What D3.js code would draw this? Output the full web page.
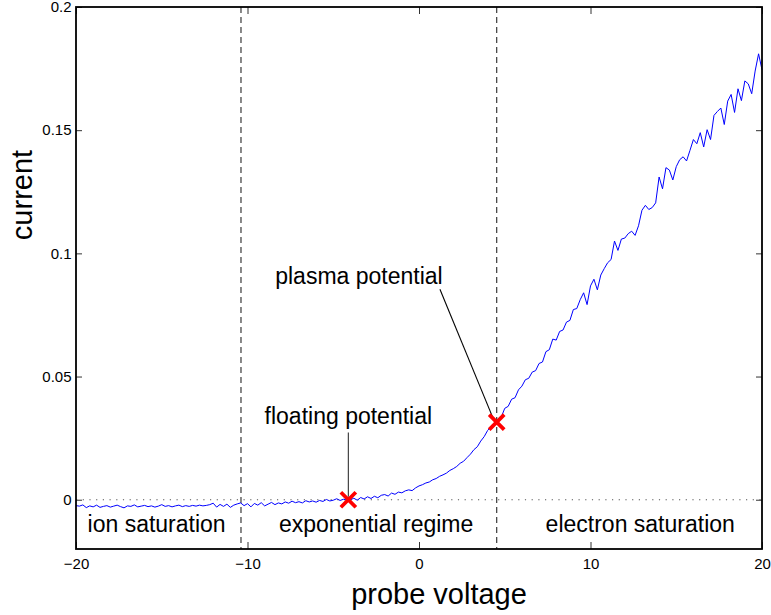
<!DOCTYPE html>
<html>
<head>
<meta charset="utf-8">
<script src="https://cdn.jsdelivr.net/npm/d3@7"></script>
<style>
  body { margin: 0; background: #fff; }
  text { font-family: "Liberation Sans", Arial, Helvetica, sans-serif; fill: #000; }
</style>
</head>
<body>
<div id="chart"></div>
<script>
// probe sweep, -20 V to 20 V in 0.2 V steps
var voltage = d3.range(201).map(function(i) { return +(-20 + 0.2 * i).toFixed(1); });

var current = [
  -0.0024, -0.0026, -0.0021, -0.0032, -0.0025, -0.0029, -0.0022, -0.0031, -0.0027, -0.0024,
  -0.0030, -0.0026, -0.0022, -0.0028, -0.0033, -0.0025, -0.0027, -0.0021, -0.0029, -0.0026,
  -0.0023, -0.0028, -0.0025, -0.0030, -0.0026, -0.0020, -0.0027, -0.0024, -0.0029, -0.0025,
  -0.0022, -0.0028, -0.0024, -0.0027, -0.0023, -0.0026, -0.0022, -0.0025, -0.0023, -0.0020,
  -0.0014, -0.0030, -0.0019, -0.0027, -0.0018, -0.0031, -0.0022, -0.0017, -0.0013, -0.0024,
  -0.0016, -0.0029, -0.0015, -0.0022, -0.0012, -0.0025, -0.0018, -0.0011, -0.0020, -0.0013,
  -0.0017, -0.0009, -0.0014, -0.0006, -0.0012, -0.0008, -0.0013, -0.0004, -0.0009, -0.0005,
  -0.0010, -0.0003, -0.0007, 0.0001, -0.0005, -0.0002, 0.0004, -0.0003, 0.0002, -0.0001,
  0.0000, 0.0006, -0.0002, 0.0009, 0.0003, 0.0012, 0.0005, 0.0014, 0.0008, 0.0018,
  0.0021, 0.0015, 0.0027, 0.0022, 0.0031, 0.0028, 0.0036, 0.0040, 0.0037, 0.0048,
  0.0056, 0.0061, 0.0068, 0.0072, 0.0081, 0.0086, 0.0095, 0.0101, 0.0108, 0.0119,
  0.0126, 0.0135, 0.0148, 0.0156, 0.0171, 0.0185, 0.0203, 0.0215, 0.0238, 0.0256,
  0.0281, 0.0297, 0.0312, 0.0322, 0.0336, 0.0371, 0.0379, 0.0408, 0.0414, 0.0446,
  0.0461, 0.0487, 0.0493, 0.0518, 0.0524, 0.0553, 0.0559, 0.0601, 0.0609, 0.0652,
  0.0648, 0.0683, 0.0689, 0.0721, 0.0728, 0.0772, 0.0776, 0.0812, 0.0840, 0.0792,
  0.0868, 0.0895, 0.0852, 0.0912, 0.0938, 0.0962, 0.0975, 0.1050, 0.1012, 0.1058,
  0.1062, 0.1080, 0.1090, 0.1073, 0.1112, 0.1175, 0.1195, 0.1178, 0.1186, 0.1205,
  0.1310, 0.1262, 0.1348, 0.1338, 0.1298, 0.1352, 0.1380, 0.1392, 0.1375, 0.1418,
  0.1462, 0.1445, 0.1490, 0.1432, 0.1502, 0.1462, 0.1560, 0.1576, 0.1590, 0.1523,
  0.1618, 0.1645, 0.1572, 0.1668, 0.1620, 0.1700, 0.1688, 0.1648, 0.1740, 0.1810,
  0.1745
];

var xTicks = [-20, -10, 0, 10, 20];
var yTicks = [0, 0.05, 0.1, 0.15, 0.2];

// region boundaries (dashed lines)
var boundaries = [-10.38, 4.53];

// marked points
var markNames = ["floating potential", "plasma potential"];
var markV = [-4.12, 4.53];
var markI = [0.0, 0.0315];

// region labels (centre voltage)
var regionNames = ["ion saturation", "exponential regime", "electron saturation"];
var regionV = [-15.3, -2.5, 12.9];

// set the dimensions and margins of the graph
var margin = {top: 7, right: 9, bottom: 66, left: 76},
    width = 771 - margin.left - margin.right,
    height = 615 - margin.top - margin.bottom;

var x = d3.scaleLinear().domain([-20, 20]).range([0, width]);
var y = d3.scaleLinear().domain([-0.02, 0.2]).range([height, 0]);

var svg = d3.select("#chart").append("svg")
    .attr("width", 771)
    .attr("height", 615)
  .append("g")
    .attr("transform", "translate(" + margin.left + "," + margin.top + ")");

// zero line (dotted)
svg.append("line")
    .attr("x1", 0).attr("x2", width)
    .attr("y1", y(0)).attr("y2", y(0))
    .style("stroke", "#555")
    .style("stroke-width", 1.2)
    .style("stroke-dasharray", "1.2,5.5");

// region boundaries
svg.selectAll(".bound")
    .data(boundaries)
    .enter()
    .append("line")
    .attr("class", "bound")
    .attr("x1", function(d) { return x(d); })
    .attr("x2", function(d) { return x(d); })
    .attr("y1", 0).attr("y2", height)
    .style("stroke", "#3a3a3a")
    .style("stroke-width", 1.2)
    .style("stroke-dasharray", "6,4");

// the I-V trace
var line = d3.line()
    .x(function(d, i) { return x(voltage[i]); })
    .y(function(d) { return y(d); });

svg.append("path")
    .datum(current)
    .attr("d", line)
    .style("fill", "none")
    .style("stroke", "#0000ff")
    .style("stroke-width", 1);

// axes: ticks inside, box all round
var fmtX = d3.format("d");
var fmtY = d3.format("~g");

svg.append("g")
    .attr("class", "axis")
    .attr("transform", "translate(0," + height + ")")
    .call(d3.axisBottom(x).tickValues(xTicks).tickSizeInner(-7).tickSizeOuter(0).tickPadding(9).tickFormat(fmtX));
svg.append("g")
    .attr("class", "axis")
    .call(d3.axisTop(x).tickValues(xTicks).tickSizeInner(-7).tickSizeOuter(0).tickFormat(""));
svg.append("g")
    .attr("class", "axis")
    .call(d3.axisLeft(y).tickValues(yTicks).tickSizeInner(-6).tickSizeOuter(0).tickPadding(4.5).tickFormat(fmtY));
svg.append("g")
    .attr("class", "axis")
    .attr("transform", "translate(" + width + ",0)")
    .call(d3.axisRight(y).tickValues(yTicks).tickSizeInner(-6).tickSizeOuter(0).tickFormat(""));

svg.selectAll(".axis .domain").remove();
svg.selectAll(".axis line").style("stroke", "#333").style("stroke-width", 1);
svg.selectAll(".axis text")
    .style("font-family", "'Liberation Sans', Arial, sans-serif")
    .style("font-size", "15px")
    .style("fill", "#000");

svg.append("rect")
    .attr("width", width)
    .attr("height", height)
    .style("fill", "none")
    .style("stroke", "#000")
    .style("stroke-width", 1.8);

// leader lines
svg.append("line")
    .attr("x1", x(markV[0])).attr("x2", x(markV[0]))
    .attr("y1", y(0.0309) + 9).attr("y2", y(markI[0]) - 3)
    .style("stroke", "#333")
    .style("stroke-width", 1.1);
svg.append("line")
    .attr("x1", x(1.22)).attr("y1", y(0.0854))
    .attr("x2", x(4.37)).attr("y2", y(0.0322))
    .style("stroke", "#000")
    .style("stroke-width", 1.1);

// red crosses
svg.selectAll(".mark")
    .data(markV)
    .enter()
    .append("path")
    .attr("class", "mark")
    .attr("transform", function(d, i) { return "translate(" + x(d) + "," + y(markI[i]) + ")"; })
    .attr("d", "M-7.5,-7.5L7.5,7.5M-7.5,7.5L7.5,-7.5")
    .style("stroke", "#ff0000")
    .style("stroke-width", 3.8)
    .style("fill", "none");

// annotation texts
svg.append("text")
    .attr("x", x(markV[0]))
    .attr("y", y(0.0309))
    .attr("text-anchor", "middle")
    .style("font-size", "23px")
    .text(markNames[0]);
svg.append("text")
    .attr("x", x(-3.5))
    .attr("y", y(0.0877))
    .attr("text-anchor", "middle")
    .style("font-size", "23px")
    .text(markNames[1]);

svg.selectAll(".region")
    .data(regionNames)
    .enter()
    .append("text")
    .attr("class", "region")
    .attr("x", function(d, i) { return x(regionV[i]); })
    .attr("y", y(-0.0132))
    .attr("text-anchor", "middle")
    .style("font-size", "23px")
    .text(function(d) { return d; });

// axis labels
svg.append("text")
    .attr("transform", "translate(" + (439 - margin.left) + "," + (604 - margin.top) + ")")
    .attr("text-anchor", "middle")
    .style("font-size", "29px")
    .text("probe voltage");

svg.append("text")
    .attr("transform", "translate(" + (31.5 - margin.left) + "," + (195 - margin.top) + ") rotate(-90)")
    .attr("text-anchor", "middle")
    .style("font-size", "29px")
    .text("current");
</script>
</body>
</html>
